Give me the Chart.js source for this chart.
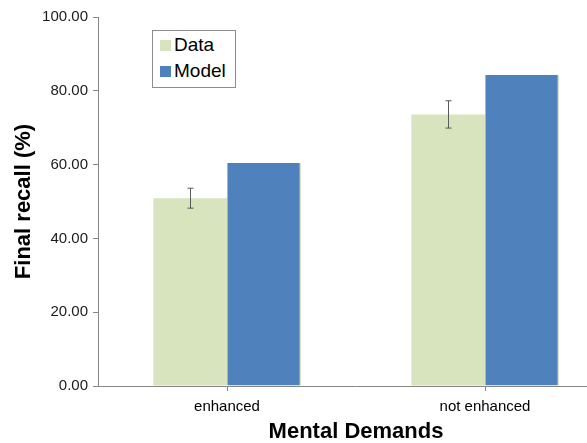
<!DOCTYPE html>
<html><head><meta charset="utf-8">
<script src="https://cdn.jsdelivr.net/npm/chart.js@4/dist/chart.umd.min.js"></script>
<style>
html,body{margin:0;padding:0;background:#fff;overflow:hidden;width:587px;height:443px}
#wrap{position:relative;width:616px;height:443px}
#legend{position:absolute;left:152px;top:30px;width:84px;height:58px;border:1px solid #8c8c8c;box-sizing:border-box;background:#fff;font-family:"Liberation Sans",Arial,sans-serif;font-size:19px;color:#000}
#legend div{position:absolute;left:7px;display:flex;align-items:center;line-height:22px}
#legend span.sw{display:inline-block;width:11px;height:11px;margin-right:3px}
</style></head><body>
<div id="wrap"><canvas id="c" width="616" height="443"></canvas>
<div id="legend"></div></div>
<script>
const categories = ["enhanced", "not enhanced"];
const dataValues = [50.9, 73.6];
const dataErrors = [2.7, 3.7];
const modelValues = [60.4, 84.3];
const yTicks = [0, 20, 40, 60, 80, 100];
const seriesNames = ["Data", "Model"];
const colors = ["#D7E4BD", "#4F81BD"];

const lg = document.getElementById('legend');
seriesNames.forEach((n,i)=>{
  const d=document.createElement('div');
  d.style.top=(i===0?3:29)+'px';
  d.innerHTML='<span class="sw" style="background:'+colors[i]+'"></span>'+n;
  lg.appendChild(d);
});

const errPlugin = {
  id:'err',
  afterDatasetsDraw(chart){
    const ctx=chart.ctx, meta=chart.getDatasetMeta(0), y=chart.scales.y;
    ctx.save(); ctx.strokeStyle='#595959'; ctx.lineWidth=1;
    meta.data.forEach((bar,i)=>{
      const x=Math.round(bar.x)+0.5;
      const top=y.getPixelForValue(dataValues[i]+dataErrors[i]);
      const bot=y.getPixelForValue(dataValues[i]-dataErrors[i]);
      ctx.beginPath();
      ctx.moveTo(x,top);ctx.lineTo(x,bot);
      ctx.moveTo(x-3,top);ctx.lineTo(x+3,top);
      ctx.moveTo(x-3,bot);ctx.lineTo(x+3,bot);
      ctx.stroke();
    });
    ctx.restore();
  }
};

new Chart(document.getElementById('c'),{
  type:'bar',
  data:{labels:categories,datasets:[
    {label:seriesNames[0],data:dataValues,backgroundColor:colors[0],borderWidth:0},
    {label:seriesNames[1],data:modelValues,backgroundColor:colors[1],borderColor:'#A9C47A',borderWidth:{left:1,right:1,top:0,bottom:0}}
  ]},
  options:{
    responsive:false,animation:false,
    layout:{padding:{top:17,right:2,left:0,bottom:0}},
    plugins:{legend:{display:false},tooltip:{enabled:false}},
    datasets:{bar:{barPercentage:1,categoryPercentage:0.571}},
    scales:{
      x:{
        grid:{display:true,drawOnChartArea:false,offset:false,tickLength:5,color:'#868686'},
        border:{color:'#868686',width:1},
        ticks:{color:'#000',font:{family:'"Liberation Sans", Arial, sans-serif',size:15},padding:7},
        title:{display:true,text:'Mental Demands',color:'#000',font:{family:'"Liberation Sans", Arial, sans-serif',size:22,weight:'bold',lineHeight:1.0},padding:{top:1,bottom:0}},
        afterFit(s){s.height=57;}
      },
      y:{
        min:0,max:100,
        afterBuildTicks(s){s.ticks=yTicks.map(v=>({value:v}));},
        grid:{display:true,drawOnChartArea:false,tickLength:5,color:'#868686'},
        border:{color:'#868686',width:1},
        ticks:{color:'#1a1a1a',font:{family:'"Liberation Sans", Arial, sans-serif',size:15},padding:5,callback:v=>Number(v).toFixed(2)},
        title:{display:true,text:'Final recall (%)',color:'#000',font:{family:'"Liberation Sans", Arial, sans-serif',size:22,weight:'bold'},padding:{top:11,bottom:0}},
        afterFit(s){s.width=98;}
      }
    }
  },
  plugins:[errPlugin]
});
</script></body></html>
